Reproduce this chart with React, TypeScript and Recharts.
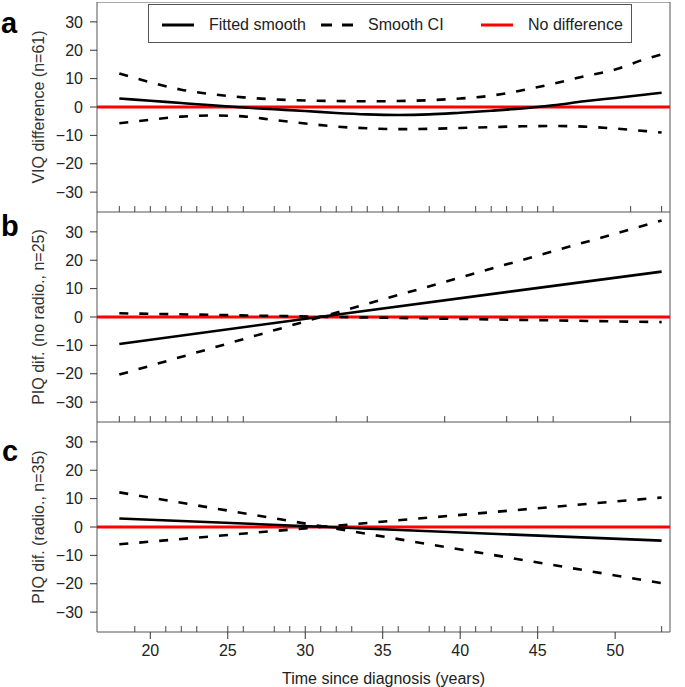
import {
  ComposedChart,
  Line,
  XAxis,
  YAxis,
  ReferenceLine,
  ReferenceArea,
  Legend,
} from "recharts";

const FONT = '"Liberation Sans", Arial, sans-serif';

// panel a: VIQ difference, smooth fit
const xA = [18, 20, 22, 24, 26, 28, 30, 32, 34, 36, 38, 40, 42, 44, 46, 48, 50, 52, 53];
const fitA = [3.0, 2.2, 1.4, 0.6, -0.2, -0.8, -1.4, -2.1, -2.6, -2.8, -2.6, -2.0, -1.3, -0.5, 0.6, 2.0, 3.2, 4.4, 5.0];
const hiA = [11.8, 8.7, 6.1, 4.5, 3.4, 2.7, 2.3, 2.1, 2.0, 2.1, 2.4, 3.0, 4.0, 5.9, 8.2, 10.8, 13.2, 17.0, 18.5];
const loA = [-5.7, -4.5, -3.4, -3.0, -3.3, -4.6, -5.8, -6.9, -7.5, -7.8, -7.7, -7.4, -7.1, -6.8, -6.7, -6.9, -7.6, -8.5, -9.0];
const rugA = [18, 19, 20, 21, 22, 23, 24, 25, 26, 28, 29, 31, 32, 33, 34, 35, 36, 38, 39, 41, 42, 43, 44, 45, 46, 51, 53];

// panel b: PIQ, no radiotherapy
const xB = [18, 31, 53];
const fitB = [-9.5, 0.1, 16.0];
const hiB = [-20.3, 0.0, 34.0];
const loB = [1.3, 0.1, -1.8];
const rugB = [18, 19, 20, 21, 22, 23, 24, 25, 26, 32, 34, 39, 43, 45, 46, 51];

// panel c: PIQ, radiotherapy
const xC = [18, 31, 53];
const fitC = [3.0, 0.1, -4.8];
const hiC = [12.2, 0.3, -19.8];
const loC = [-6.1, 0.0, 10.4];
const rugC = [19, 21, 22, 23, 25, 26, 28, 29, 30, 31, 32, 33, 35, 36, 38, 39, 40, 41, 42, 44, 45, 46, 53];

const yTicks = [-30, -20, -10, 0, 10, 20, 30];
const xTicks = [20, 25, 30, 35, 40, 45, 50];

const X_MIN = 16.56;
const X_MAX = 53.54;
const Y_MIN = -37;
const Y_MAX = 37;

const rows = (xs: number[], fit: number[], hi: number[], lo: number[]) =>
  xs.map((x, i) => ({ x, fit: fit[i], hi: hi[i], lo: lo[i] }));

const fmt = (v: number) => (v < 0 ? "\u2212" + Math.abs(v) : String(v));

function LegendBox() {
  const item = (left: number, stroke: string, dash: string | undefined, label: string) => (
    <div style={{ position: "absolute", left, top: 0, height: 39, display: "flex", alignItems: "center" }}>
      <svg width={32} height={6} style={{ display: "block" }}>
        <line x1={0} y1={3} x2={32} y2={3} stroke={stroke} strokeWidth={3} strokeDasharray={dash} />
      </svg>
      <span style={{ marginLeft: 15, fontSize: 16, color: "#222", fontFamily: FONT }}>{label}</span>
    </div>
  );
  return (
    <div style={{ position: "relative", width: 484, height: 39, border: "1px solid #555", background: "#fff", boxSizing: "border-box" }}>
      {item(13, "#000", undefined, "Fitted smooth")}
      {item(172, "#000", "11 10", "Smooth CI")}
      {item(332, "#ff0000", undefined, "No difference")}
    </div>
  );
}

type PanelProps = {
  data: { x: number; fit: number; hi: number; lo: number }[];
  rug: number[];
  yLabel: string;
  smooth: boolean;
  showX: boolean;
  height: number;
  legend?: boolean;
};

function Panel({ data, rug, yLabel, smooth, showX, height, legend }: PanelProps) {
  const curve = smooth ? "monotone" : "linear";
  return (
    <ComposedChart
      width={685}
      height={height}
      data={data}
      margin={{ top: 0, right: 15, bottom: 0, left: 0 }}
    >
      <XAxis
        type="number"
        dataKey="x"
        domain={[X_MIN, X_MAX]}
        allowDataOverflow
        hide={!showX}
        ticks={xTicks}
        axisLine={false}
        tickSize={7}
        tickMargin={6}
        height={56}
        stroke="#333"
        tick={{ fontSize: 16, fill: "#222", fontFamily: FONT }}
        label={({ viewBox }: any) => (
          <text
            x={viewBox.x + viewBox.width / 2}
            y={viewBox.y + 52}
            textAnchor="middle"
            fontSize={16}
            fill="#222"
            fontFamily={FONT}
          >
            Time since diagnosis (years)
          </text>
        )}
      />
      <YAxis
        type="number"
        domain={[Y_MIN, Y_MAX]}
        allowDataOverflow
        ticks={yTicks}
        width={97}
        axisLine={false}
        tickSize={7}
        tickMargin={7}
        stroke="#333"
        tickFormatter={fmt}
        tick={{ fontSize: 16, fill: "#222", fontFamily: FONT }}
        label={({ viewBox }: any) => (
          <text
            x={38}
            y={viewBox.y + viewBox.height / 2}
            transform={`rotate(-90, 38, ${viewBox.y + viewBox.height / 2})`}
            textAnchor="middle"
            dominantBaseline="central"
            fontSize={16}
            fill="#333"
            fontFamily={FONT}
          >
            {yLabel}
          </text>
        )}
      />
      <ReferenceArea
        x1={X_MIN}
        x2={X_MAX}
        y1={Y_MIN}
        y2={Y_MAX}
        fill="none"
        stroke="#555"
        strokeWidth={1}
        ifOverflow="visible"
      />
      {rug.map((r, i) => (
        <ReferenceLine
          key={"rug" + i}
          segment={[{ x: r, y: Y_MIN }, { x: r, y: Y_MIN + 2.1 }]}
          stroke="#444"
          strokeWidth={1}
          ifOverflow="visible"
        />
      ))}
      <ReferenceLine y={0} stroke="#ff0000" strokeWidth={3} />
      <Line dataKey="hi" type={curve} stroke="#000" strokeWidth={2.6} strokeDasharray="9 11" dot={false} isAnimationActive={false} />
      <Line dataKey="lo" type={curve} stroke="#000" strokeWidth={2.6} strokeDasharray="9 11" dot={false} isAnimationActive={false} />
      <Line dataKey="fit" type={curve} stroke="#000" strokeWidth={2.6} dot={false} isAnimationActive={false} />
      {legend && (
        <Legend
          layout="horizontal"
          verticalAlign="middle"
          align="center"
          wrapperStyle={{ position: "absolute", top: 2, left: 148, width: 484, height: 39 }}
          content={() => <LegendBox />}
        />
      )}
    </ComposedChart>
  );
}

export default function App() {
  return (
    <div style={{ position: "fixed", left: 0, top: 0, width: 685, height: 687, background: "#fff", overflow: "hidden", fontFamily: FONT }}>
      <div style={{ position: "absolute", left: 0, top: 2 }}>
        <Panel data={rows(xA, fitA, hiA, loA)} rug={rugA} yLabel="VIQ difference (n=61)" smooth showX={false} height={210} legend />
      </div>
      <div style={{ position: "absolute", left: 0, top: 212 }}>
        <Panel data={rows(xB, fitB, hiB, loB)} rug={rugB} yLabel="PIQ dif. (no radio., n=25)" smooth={false} showX={false} height={210} />
      </div>
      <div style={{ position: "absolute", left: 0, top: 422 }}>
        <Panel data={rows(xC, fitC, hiC, loC)} rug={rugC} yLabel="PIQ dif. (radio., n=35)" smooth={false} showX height={266} />
      </div>
      <svg width={685} height={687} style={{ position: "absolute", left: 0, top: 0, pointerEvents: "none" }}>
        <text x={1} y={33} fontSize={29} fontWeight="bold" fontFamily={FONT} fill="#000">a</text>
        <text x={1} y={236} fontSize={29} fontWeight="bold" fontFamily={FONT} fill="#000">b</text>
        <text x={2} y={461} fontSize={29} fontWeight="bold" fontFamily={FONT} fill="#000">c</text>
      </svg>
    </div>
  );
}
